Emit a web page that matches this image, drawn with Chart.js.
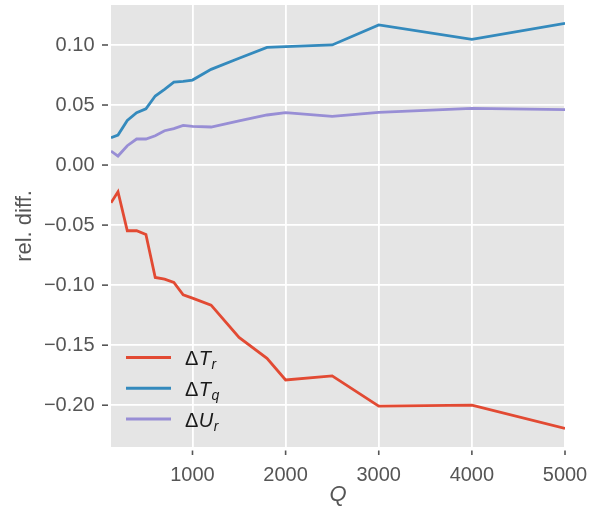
<!DOCTYPE html>
<html>
<head>
<meta charset="utf-8">
<script src="https://cdn.jsdelivr.net/npm/chart.js@4"></script>
<style>
  html, body { margin: 0; padding: 0; background: #ffffff; }
  #wrap { width: 590px; height: 514px; position: relative; }
</style>
</head>
<body>
<div id="wrap"><canvas id="c" width="590" height="514"></canvas></div>
<script>
// ---- data ----
const qValues = [125, 200, 300, 400, 500, 600, 700, 800, 900, 1000, 1200, 1500, 1800, 2000, 2500, 3000, 4000, 5000];
const deltaTr = [-0.0314, -0.0222, -0.0547, -0.0547, -0.0578, -0.0936, -0.0950, -0.0978, -0.1080, -0.1108, -0.1167, -0.1436, -0.1610, -0.1790, -0.1756, -0.2008, -0.2000, -0.2194];
const deltaTq = [0.0228, 0.0250, 0.0372, 0.0436, 0.0469, 0.0575, 0.0630, 0.0690, 0.0697, 0.0708, 0.0797, 0.0890, 0.0980, 0.0986, 0.1000, 0.1167, 0.1047, 0.1180];
const deltaUr = [0.0117, 0.0075, 0.0161, 0.0217, 0.0217, 0.0244, 0.0286, 0.0303, 0.0331, 0.0322, 0.0317, 0.0367, 0.0417, 0.0436, 0.0406, 0.0439, 0.0472, 0.0461];
const seriesLabels = ["ΔT_r", "ΔT_q", "ΔU_r"];
const seriesColors = ["#E24A33", "#348ABD", "#988ED5"];
const xTicks = [1000, 2000, 3000, 4000, 5000];
const yTicks = [-0.20, -0.15, -0.10, -0.05, 0.00, 0.05, 0.10];
const xTitle = "Q";
const yTitle = "rel. diff.";

const FONT = "'Liberation Sans', Arial, Helvetica, sans-serif";
const TXT = "#555555";

const toPts = arr => arr.map((v, i) => ({ x: qValues[i], y: v }));
const seriesValues = [deltaTr, deltaTq, deltaUr];

const bgPlugin = {
  id: 'bg',
  beforeDraw(chart) {
    const { ctx, chartArea: ca } = chart;
    ctx.save();
    ctx.fillStyle = '#E5E5E5';
    ctx.fillRect(ca.left, ca.top, ca.right - ca.left, ca.bottom - ca.top);
    ctx.restore();
  }
};

const tickPlugin = {
  id: 'tickMarks',
  afterDraw(chart) {
    const { ctx, chartArea: ca, scales: { x, y } } = chart;
    ctx.save();
    ctx.strokeStyle = TXT;
    ctx.lineWidth = 1.6;
    x.ticks.forEach(t => {
      const px = x.getPixelForValue(t.value);
      ctx.beginPath(); ctx.moveTo(px, ca.bottom + 3.5); ctx.lineTo(px, ca.bottom + 8); ctx.stroke();
    });
    y.ticks.forEach(t => {
      const py = y.getPixelForValue(t.value);
      ctx.beginPath(); ctx.moveTo(ca.left - 9, py); ctx.lineTo(ca.left - 3, py); ctx.stroke();
    });
    ctx.restore();
  }
};

const legendPlugin = {
  id: 'mathLegend',
  afterDatasetsDraw(chart) {
    const { ctx, chartArea: ca } = chart;
    ctx.save();
    const x0 = ca.left + 15, x1 = ca.left + 60;
    const yStart = ca.bottom - 89.5, gap = 30.7;
    chart.data.datasets.forEach((ds, i) => {
      const yy = yStart + i * gap;
      ctx.strokeStyle = ds.borderColor;
      ctx.lineWidth = 3;
      ctx.beginPath(); ctx.moveTo(x0, yy); ctx.lineTo(x1, yy); ctx.stroke();
      const [main, sub] = ds.label.split('_');
      const delta = main.charAt(0), sym = main.slice(1);
      const base = yy + 7.8;
      let tx = ca.left + 74;
      ctx.fillStyle = '#1a1a1a';
      ctx.textBaseline = 'alphabetic';
      ctx.textAlign = 'left';
      ctx.font = `20px ${FONT}`;
      ctx.fillText(delta, tx, base);
      tx += ctx.measureText(delta).width + 0.5;
      ctx.font = `italic 20px ${FONT}`;
      ctx.fillText(sym, tx, base);
      tx += ctx.measureText(sym).width + 0.5;
      ctx.font = `italic 14px ${FONT}`;
      ctx.fillText(sub, tx, base + 3.8);
    });
    ctx.restore();
  }
};

new Chart(document.getElementById('c'), {
  type: 'line',
  data: {
    datasets: seriesValues.map((vals, i) => ({
      label: seriesLabels[i],
      data: toPts(vals),
      borderColor: seriesColors[i],
      backgroundColor: seriesColors[i],
      borderWidth: 2.8,
      pointRadius: 0,
      tension: 0,
      fill: false
    }))
  },
  options: {
    responsive: false,
    animation: false,
    parsing: true,
    layout: { padding: { left: 12, right: 25, top: 5, bottom: 6 } },
    plugins: { legend: { display: false }, tooltip: { enabled: false } },
    scales: {
      x: {
        type: 'linear',
        min: 125, max: 5000,
        afterBuildTicks: s => { s.ticks = xTicks.map(v => ({ value: v })); },
        afterFit: s => { s.height = 61; s.paddingLeft = 0; s.paddingRight = 0; s.paddingTop = 0; s.paddingBottom = 0; },
        grid: { color: '#ffffff', lineWidth: 1.8, drawTicks: false },
        border: { display: false },
        ticks: { color: TXT, font: { family: FONT, size: 20 }, padding: 16, maxRotation: 0, autoSkip: false, callback: v => String(v) },
        title: { display: true, text: xTitle, color: TXT, font: { family: FONT, size: 22, style: 'italic' }, padding: 0 }
      },
      y: {
        type: 'linear',
        min: -0.2348, max: 0.1333,
        afterBuildTicks: s => { s.ticks = yTicks.map(v => ({ value: v })); },
        afterFit: s => { s.width = 99; s.paddingLeft = 0; s.paddingRight = 0; s.paddingTop = 0; s.paddingBottom = 0; },
        grid: { color: '#ffffff', lineWidth: 1.8, drawTicks: false },
        border: { display: false },
        ticks: {
          color: TXT, font: { family: FONT, size: 20 }, padding: 16.5, autoSkip: false,
          callback: v => (v < -1e-9 ? '\u2212' : '') + Math.abs(v).toFixed(2)
        },
        title: { display: true, text: yTitle, color: TXT, font: { family: FONT, size: 22 }, padding: 0 }
      }
    }
  },
  plugins: [bgPlugin, tickPlugin, legendPlugin]
});
</script>
</body>
</html>
